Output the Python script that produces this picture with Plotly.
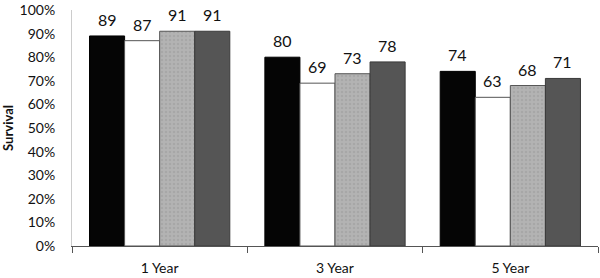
import plotly.graph_objects as go

categories = ["1 Year", "3 Year", "5 Year"]
series_a = [89, 80, 74]
series_b = [87, 69, 63]
series_c = [91, 73, 68]
series_d = [91, 78, 71]
y_ticks = [0, 10, 20, 30, 40, 50, 60, 70, 80, 90, 100]

styles = [
    dict(color="#050505", line=dict(color="#000000", width=1)),
    dict(color="#ffffff", line=dict(color="#555555", width=1)),
    dict(color="#b3b3b3", line=dict(color="#555555", width=1), pattern=dict(shape=".", fgcolor="#9a9a9a", size=4, solidity=0.3)),
    dict(color="#555555", line=dict(color="#3a3a3a", width=1)),
]

all_series = [series_a, series_b, series_c, series_d]
n = len(all_series)
bargap = 0.2
bw = (1 - bargap) / n

fig = go.Figure()
annotations = []
for j, (vals, st) in enumerate(zip(all_series, styles)):
    fig.add_trace(go.Bar(
        x=categories, y=[v / 100 for v in vals],
        marker=st, cliponaxis=False, showlegend=False,
    ))
    for i, v in enumerate(vals):
        annotations.append(dict(
            x=i + (j - (n - 1) / 2) * bw, y=v / 100, xref="x", yref="y",
            text=str(v), showarrow=False, yanchor="bottom", yshift=5,
            font=dict(size=16, color="#111111", family="Lato"),
        ))

fig.update_layout(
    width=600, height=278,
    margin=dict(l=72, r=2, t=10, b=32),
    paper_bgcolor="white", plot_bgcolor="white",
    barmode="group", bargap=bargap, bargroupgap=0,
    font=dict(family="Lato", size=13, color="#111111"),
    annotations=annotations,
    xaxis=dict(showline=True, linecolor="#555555", linewidth=1, automargin=False,
               ticks="outside", tickson="boundaries", ticklen=6, tickcolor="#555555",
               ticklabelstandoff=9, tickfont=dict(size=14)),
    yaxis=dict(range=[0, 1], tickvals=[t / 100 for t in y_ticks], automargin=False,
               ticktext=[f"{t}%" for t in y_ticks], showgrid=False,
               showline=True, linecolor="#cccccc", linewidth=1, zeroline=False,
               tickfont=dict(size=14), ticklabelstandoff=13,
               title=dict(text="<b>Survival</b>", font=dict(size=13), standoff=6)),
)
fig.write_html("out.html", config={"displayModeBar": False},
               post_script="document.body.style.margin='0';")
